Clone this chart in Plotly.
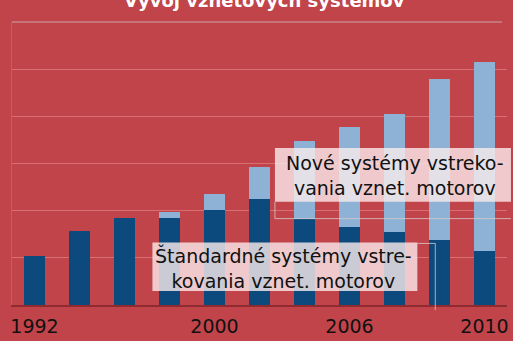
import plotly.graph_objects as go

# Years shown on the category axis and which of them get a tick label
years = ["1992", "1994", "1996", "1998", "2000", "2002", "2004", "2006", "2007", "2008", "2010"]
tick_years = ["1992", "2000", "2006", "2010"]

# Stacked volumes: standard diesel injection systems and new systems
standard = [1.03, 1.56, 1.85, 1.85, 2.02, 2.25, 1.83, 1.66, 1.54, 1.37, 1.14]
new_sys = [0.00, 0.00, 0.00, 0.13, 0.34, 0.68, 1.64, 2.11, 2.52, 3.43, 4.02]

title_text = "Vývoj vznetových systémov"
label_std = "Štandardné systémy vstre-<br>kovania vznet. motorov"
label_new = "Nové systémy vstreko-<br>vania vznet. motorov"

BG = "#C0444A"
DARK = "#0C4A7E"
LIGHT = "#8DB2D5"

fig = go.Figure()
fig.add_trace(go.Bar(x=years, y=standard, marker=dict(color=DARK, line=dict(width=0)), name="std"))
fig.add_trace(go.Bar(x=years, y=new_sys, marker=dict(color=LIGHT, line=dict(width=0)), name="new"))

fig.update_layout(
    barmode="stack",
    bargap=0.52,
    width=513,
    height=341,
    margin=dict(l=12, r=4, t=22, b=34),
    paper_bgcolor=BG,
    plot_bgcolor=BG,
    showlegend=False,
    font=dict(family="DejaVu Sans", color="black"),
    xaxis=dict(
        type="category",
        range=[-0.5, 10.5],
        tickmode="array",
        tickvals=tick_years,
        ticktext=tick_years,
        tickfont=dict(size=19, color="#111111", family="DejaVu Sans"),
        showgrid=False,
        ticks="outside",
        ticklen=3,
        tickcolor="rgba(0,0,0,0)",
        showline=True,
        linecolor="#8E2A30",
        linewidth=2,
    ),
    yaxis=dict(
        range=[0, 6],
        dtick=1,
        showticklabels=False,
        showgrid=True,
        gridcolor="rgba(235,150,150,0.55)",
        gridwidth=1,
        zeroline=False,
        showline=True,
        linecolor="rgba(200,120,120,0.5)",
        linewidth=1,
    ),
)

# Top frame line of the plot area
fig.add_shape(type="line", xref="paper", yref="paper", x0=0, x1=0.99, y0=1, y1=1,
              line=dict(color="rgba(200,150,150,0.8)", width=1.5))

# Title, mostly beyond the top edge of the page
fig.add_annotation(
    text=f"<b>{title_text}</b>", xref="paper", yref="paper",
    x=0.51, y=1.031, xanchor="center", yanchor="bottom",
    showarrow=False, font=dict(size=18, color="white", family="DejaVu Sans"),
)

def px_x(p):
    return (p - 12) / 497.0

def px_y(p):
    return (307 - p) / 285.0

# Label boxes with translucent white backgrounds
for (x0, y0, x1, y1) in [(153, 244, 419, 293), (276, 149, 513, 203)]:
    fig.add_shape(type="rect", xref="paper", yref="paper",
                  x0=px_x(x0), x1=px_x(x1), y0=px_y(y1), y1=px_y(y0),
                  fillcolor="rgba(250,235,235,0.8)", line=dict(width=0), layer="above")

# Thin bracket lines joining labels to their bars
fig.add_shape(type="path", xref="paper", yref="paper",
              path=f"M {px_x(419)} {px_y(245)} L {px_x(437)} {px_y(245)} L {px_x(437)} {px_y(312)}",
              line=dict(color="rgba(215,200,200,0.8)", width=1), layer="above")
fig.add_shape(type="path", xref="paper", yref="paper",
              path=f"M {px_x(276)} {px_y(203)} L {px_x(276)} {px_y(220)} L {px_x(513)} {px_y(220)}",
              line=dict(color="rgba(215,200,200,0.8)", width=1), layer="above")

fig.add_annotation(text=label_std, xref="paper", yref="paper",
                   x=px_x(285), y=px_y(270), xanchor="center", yanchor="middle",
                   showarrow=False, align="center",
                   font=dict(size=19, color="#111111", family="DejaVu Sans"))
fig.add_annotation(text=label_new, xref="paper", yref="paper",
                   x=px_x(397), y=px_y(177), xanchor="center", yanchor="middle",
                   showarrow=False, align="center",
                   font=dict(size=19, color="#111111", family="DejaVu Sans"))

fig.write_html("out.html")
